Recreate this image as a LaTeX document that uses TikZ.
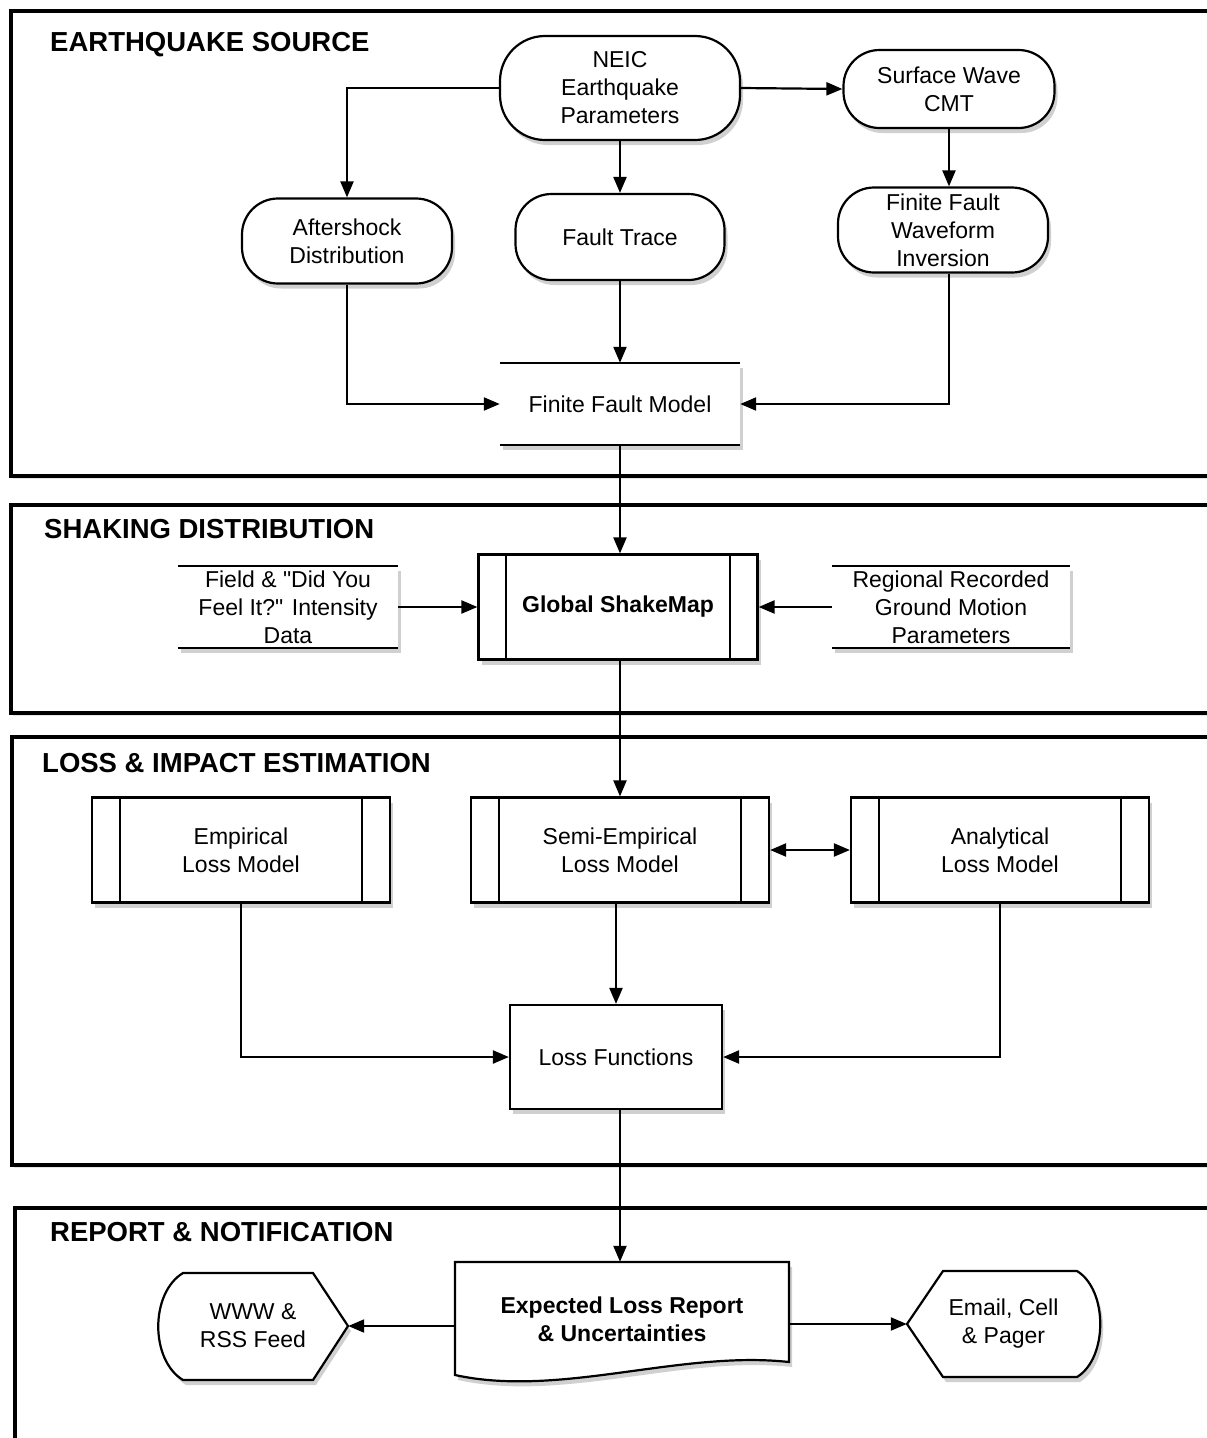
\documentclass[tikz,border=0pt]{standalone}
\usepackage{fontspec}
\setmainfont{Liberation Sans}
\usetikzlibrary{positioning,calc,shadows,arrows.meta}

\tikzset{
    softshadow/.style={drop shadow={shadow xshift=3pt, shadow yshift=-5pt, opacity=0.3, fill=black!60}},
    sectionframe/.style={line width=4.5pt, fill=white, drop shadow={shadow xshift=2pt, shadow yshift=-3pt, opacity=0.2, fill=black!50}},
    heading/.style={anchor=west, inner sep=0pt, font=\fontsize{27.5}{32}\selectfont\bfseries},
    label/.style={align=center, inner sep=0pt, font=\fontsize{23}{28}\selectfont},
    roundbox/.style={label, draw, line width=2.2pt, fill=white, softshadow, rounded corners=36pt, minimum width=210pt, minimum height=85pt},
    openbox/.style={label, fill=white, softshadow, minimum height=82pt},
    procbox/.style={label, draw, line width=2.2pt, fill=white, softshadow, minimum width=298pt, minimum height=105pt},
    plainbox/.style={label, draw, line width=2.2pt, fill=white, softshadow},
    shapeline/.style={draw, line width=2.2pt, fill=white, softshadow},
    link/.style={line width=2.2pt, -{Triangle[length=16pt,width=13pt]}},
}

\begin{document}
\begin{tikzpicture}[x=1pt, y=-1pt]
    \useasboundingbox (0,0) rectangle (1207,1438);
    \clip (0,0) rectangle (1207,1438);

    % Section frames
    \draw [sectionframe] (11,11) rectangle (1240,476);
    \draw [sectionframe] (11,505) rectangle (1240,713);
    \draw [sectionframe] (12,737) rectangle (1240,1165);
    \draw [sectionframe] (15,1208) rectangle (1240,1470);

    \node [heading] (hsource) at (50,45) {EARTHQUAKE SOURCE};
    \node [heading] (hshaking) at (44,529) {SHAKING DISTRIBUTION};
    \node [heading] (hloss) at (42,763) {LOSS \& IMPACT ESTIMATION};
    \node [heading] (hreport) at (50,1232) {REPORT \& NOTIFICATION};

    % Earthquake source
    \node [roundbox, minimum width=240pt, minimum height=104pt, rounded corners=45pt] (neic) at (620,88) {NEIC\\Earthquake\\Parameters};
    \node [roundbox, minimum width=211pt, minimum height=78pt] (cmt) at (949,89) {Surface Wave\\CMT};
    \node [roundbox] (after) at (347,241) {Aftershock\\Distribution};
    \node [roundbox, minimum width=209pt, minimum height=86pt] (trace) at (620,237) {Fault Trace};
    \node [roundbox] (ffw) at (943,230) {Finite Fault\\Waveform\\Inversion};
    \node [openbox, minimum width=240pt] (ffm) at (620,404) {Finite Fault Model};

    % Shaking distribution
    \node [openbox, minimum width=220pt] (field) at (288,607) {Field \& \textquotedbl Did You\\Feel It?\textquotedbl{} Intensity\\Data};
    \node [procbox, minimum width=279pt, font=\fontsize{23}{28}\selectfont\bfseries] (gsm) at (618,607) {Global ShakeMap};
    \node [openbox, minimum width=238pt] (regional) at (951,607) {Regional Recorded\\Ground Motion\\Parameters};

    % Loss estimation
    \node [procbox] (emp) at (241,850) {Empirical\\Loss Model};
    \node [procbox] (semi) at (620,850) {Semi-Empirical\\Loss Model};
    \node [procbox] (ana) at (1000,850) {Analytical\\Loss Model};
    \node [plainbox, minimum width=212pt, minimum height=104pt] (lf) at (616,1057) {Loss Functions};

    % open boxes: top and bottom rules only
    \foreach \n in {ffm,field,regional} {
        \draw [line width=2.5pt] (\n.north west) -- (\n.north east) (\n.south west) -- (\n.south east);
    }
    % predefined process bars
    \foreach \n in {gsm,emp,semi,ana} {
        \draw [line width=2pt] ($(\n.north west)+(29,0)$) -- ($(\n.south west)+(29,0)$);
        \draw [line width=2pt] ($(\n.north east)+(-29,0)$) -- ($(\n.south east)+(-29,0)$);
    }

    % Report shapes
    \filldraw [shapeline] (183,1273) -- (313,1273) -- (348,1326) -- (313,1380) -- (183,1380) .. controls (150,1360) and (150,1293) .. (183,1273) -- cycle;
    \filldraw [shapeline] (943,1271) -- (1077,1271) .. controls (1108,1290) and (1108,1358) .. (1077,1377) -- (943,1377) -- (907,1324) -- cycle;
    \filldraw [shapeline] (455,1262) -- (789,1262) -- (789,1362) .. controls (680,1350) and (560,1398) .. (455,1375) -- cycle;

    \node [label, minimum width=334pt, minimum height=114pt, font=\fontsize{23}{28}\selectfont\bfseries] (report) at (622,1319) {Expected Loss Report\\\& Uncertainties};
    \node [label, minimum width=190pt, minimum height=107pt] (www) at (253,1326) {WWW \&\\RSS Feed};
    \node [label, minimum width=193pt, minimum height=106pt] (email) at (1003.5,1324) {Email, Cell\\\& Pager};

    % Connectors
    \draw [link] (neic.west) -| (after.north);
    \draw [link] (neic.south) -- (trace.north);
    \draw [link] (neic.east) -- (cmt.west);
    \draw [link] (cmt.south) -- (cmt.south |- ffw.north);
    \draw [link] (after.south) |- (ffm.west);
    \draw [link] (trace.south) -- (ffm.north);
    \draw [link] (cmt.south |- ffw.south) |- (ffm.east);
    \draw [link] (ffm.south) -- (ffm.south |- gsm.north);
    \draw [link] (field.east) -- (gsm.west);
    \draw [link] (regional.west) -- (gsm.east);
    \draw [link] (gsm.south -| semi.north) -- (semi.north);
    \draw [link, {Triangle[length=16pt,width=13pt]}-{Triangle[length=16pt,width=13pt]}] (semi.east) -- (ana.west);
    \draw [link] (semi.south -| lf.north) -- (lf.north);
    \draw [link] (emp.south) |- (lf.west);
    \draw [link] (ana.south) |- (lf.east);
    \draw [link] (lf.south -| ffm.south) -- (ffm.south |- report.north);
    \draw [link] (report.west |- www.east) -- (www.east);
    \draw [link] (report.east |- email.west) -- (email.west);
\end{tikzpicture}
\end{document}
